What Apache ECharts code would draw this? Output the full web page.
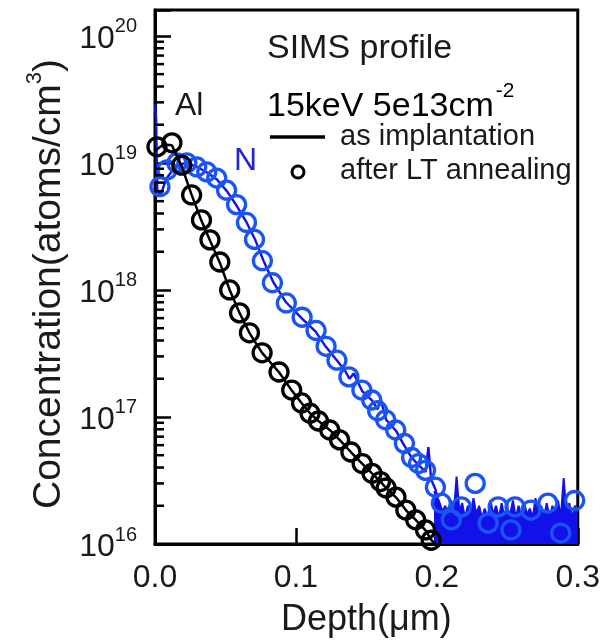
<!DOCTYPE html>
<html>
<head>
<meta charset="utf-8">
<script src="https://cdn.jsdelivr.net/npm/echarts@6/dist/echarts.min.js"></script>
<style>
html,body{margin:0;padding:0;background:#fff;}
#chart{width:603px;height:644px;}
</style>
</head>
<body>
<div id="chart"></div>
<script>
// ---- data (depth in um, concentration in atoms/cm^3) ----
// Al, after LT annealing (black circles)
const alAnnDepth = [0.0014,0.012,0.019,0.026,0.033,0.039,0.046,0.053,0.060,0.067,0.076,0.088,0.097,0.104,0.110,0.116,0.124,0.131,0.139,0.147,0.154,0.160,0.164,0.171,0.178,0.185,0.192,0.196,0.201];
const alAnnConc  = [1.34e19,1.44e19,9.6e18,5.6e18,3.56e18,2.48e18,1.66e18,1.0e18,6.6e17,4.6e17,3.2e17,2.26e17,1.63e17,1.29e17,1.07e17,9.3e16,7.9e16,6.6e16,5.3e16,4.3e16,3.6e16,3.1e16,2.76e16,2.34e16,1.85e16,1.55e16,1.29e16,1.07e16,9.5e15];
// Al, as implantation (black line)
const alImpDepth = [0.000,0.006,0.012,0.019,0.026,0.033,0.039,0.046,0.053,0.060,0.067,0.076,0.088,0.097,0.104,0.110,0.116,0.124,0.131,0.139,0.147,0.154,0.160,0.164,0.171,0.178,0.185,0.192,0.196,0.203];
const alImpConc  = [1.25e19,1.40e19,1.38e19,9.4e18,5.6e18,3.5e18,2.45e18,1.64e18,1.0e18,6.6e17,4.6e17,3.2e17,2.25e17,1.62e17,1.29e17,1.07e17,9.3e16,7.9e16,6.6e16,5.3e16,4.3e16,3.6e16,3.1e16,2.76e16,2.33e16,1.85e16,1.55e16,1.28e16,1.08e16,9.0e15];
// N, after LT annealing (blue circles)
const nAnnDepth = [0.0035,0.0085,0.0155,0.0226,0.0296,0.0367,0.0438,0.0508,0.0579,0.0649,0.0706,0.0762,0.0833,0.0932,0.1044,0.1143,0.1214,0.1291,0.1376,0.1468,0.1538,0.158,0.1637,0.1708,0.177,0.1821,0.187,0.1920,0.1990,0.2032,0.2103,0.2174,0.2272,0.2364,0.2435,0.2526,0.2555,0.2668,0.2788,0.2879,0.2978];
const nAnnConc  = [6.5e18,8.8e18,1.0e19,1.0e19,9.3e18,8.5e18,7.6e18,6.1e18,4.7e18,3.4e18,2.5e18,1.7e18,1.14e18,7.9e17,6.1e17,4.8e17,3.6e17,2.8e17,2.07e17,1.63e17,1.36e17,1.12e17,9.5e16,7.9e16,6.2e16,4.8e16,4.3e16,3.8e16,2.8e16,2.1e16,1.55e16,1.96e16,3.0e16,1.46e16,1.96e16,1.29e16,1.96e16,1.85e16,2.1e16,1.22e16,2.2e16];
// N, as implantation (blue line) down to the detection floor
const nImpDepth = [0.000,0.0008,0.0016,0.004,0.008,0.015,0.022,0.030,0.037,0.044,0.051,0.058,0.065,0.071,0.077,0.084,0.093,0.104,0.114,0.121,0.129,0.135,0.138,0.141,0.147,0.154,0.158,0.160,0.164,0.171,0.176,0.182,0.187,0.192,0.194,0.196,0.199,0.200];
const nImpConc  = [2.9e19,2.2e19,6.0e18,5.6e18,7.5e18,9.5e18,1.0e19,9.3e18,8.4e18,7.4e18,6.0e18,4.6e18,3.4e18,2.5e18,1.7e18,1.15e18,8.0e17,6.0e17,4.7e17,3.6e17,2.8e17,2.3e17,2.0e17,2.2e17,1.6e17,1.35e17,1.15e17,1.4e17,9.5e16,7.8e16,6.2e16,4.8e16,4.2e16,3.7e16,5.8e16,3.2e16,2.7e16,2.4e16];
// N, as implantation: noisy detection floor (dense, appears as a filled band)
const nFloorDepth = [0.198,0.200,0.202,0.204,0.206,0.208,0.210,0.212,0.214,0.216,0.218,0.220,0.222,0.224,0.226,0.228,0.230,0.232,0.234,0.236,0.238,0.240,0.242,0.244,0.246,0.248,0.250,0.252,0.254,0.256,0.258,0.260,0.262,0.264,0.266,0.268,0.270,0.272,0.274,0.276,0.278,0.280,0.282,0.284,0.286,0.288,0.290,0.292,0.294,0.296,0.298,0.300];
const nFloorConc  = [2.6e16,2.4e16,2.1e16,1.8e16,2.0e16,1.6e16,2.2e16,1.7e16,3.4e16,1.8e16,2.1e16,1.6e16,2.0e16,1.7e16,2.3e16,1.7e16,2.0e16,1.6e16,1.9e16,1.6e16,2.2e16,1.7e16,2.0e16,1.6e16,2.1e16,1.6e16,1.9e16,1.7e16,2.2e16,1.6e16,2.0e16,1.6e16,2.1e16,1.7e16,1.9e16,1.6e16,2.3e16,1.7e16,2.0e16,1.6e16,2.1e16,1.6e16,2.0e16,1.7e16,2.2e16,1.6e16,3.3e16,1.7e16,2.1e16,1.6e16,2.0e16,1.8e16];

// ---- axis ticks / labels ----
const xTickLabels = ['0.0','0.1','0.2','0.3'];
const yExponents = [16,17,18,19,20];
const yMinorTicks = [];
for (let e = 16; e < 20; e++) for (let m = 2; m <= 9; m++) yMinorTicks.push(m * Math.pow(10, e));

const FONT = 'Liberation Sans, Arial, sans-serif';
const TXT = '#1a1a1a';
const BLUE_LINE = '#1212e8';
const BLUE_CIRC = '#1a54f4';
const zip = (a, b) => a.map((v, i) => [v, b[i]]);

const chart = echarts.init(document.getElementById('chart'), null, {renderer: 'canvas'});
chart.setOption({
  animation: false,
  backgroundColor: '#fff',
  textStyle: {fontFamily: FONT, color: TXT},
  grid: {left: 155, top: 10, width: 425, height: 534, show: true, borderColor: '#000', borderWidth: 3, backgroundColor: 'transparent'},
  xAxis: {
    type: 'value', min: 0, max: 0.3, interval: 0.1,
    axisLine: {show: true, lineStyle: {color: '#000', width: 3}},
    axisTick: {show: true, inside: true, length: 16, lineStyle: {color: '#000', width: 2.5}},
    splitLine: {show: false},
    axisLabel: {fontSize: 32, color: TXT, margin: 18, fontFamily: FONT,
      formatter: v => xTickLabels[Math.round(v * 10)] || ''},
    name: 'Depth(\u03bcm)', nameLocation: 'middle', nameGap: 58,
    nameTextStyle: {fontSize: 36, color: TXT, fontFamily: FONT}
  },
  yAxis: {
    type: 'log', logBase: 10, min: 1e16, max: 1.6e20,
    axisLine: {show: true, lineStyle: {color: '#000', width: 3}},
    axisTick: {show: true, inside: true, length: 16, lineStyle: {color: '#000', width: 2.5}},
    splitLine: {show: false},
    axisLabel: {
      margin: 18, color: TXT, fontFamily: FONT,
      formatter: v => {
        const e = Math.log10(v);
        const r = Math.round(e);
        if (Math.abs(e - r) > 1e-6 || yExponents.indexOf(r) < 0) return '';
        return '{b|10}{s|' + r + '}';
      },
      rich: {
        b: {fontSize: 32, color: TXT, fontFamily: FONT, verticalAlign: 'bottom'},
        s: {fontSize: 20, color: TXT, fontFamily: FONT, verticalAlign: 'bottom', padding: [0, 0, 18, 0]}
      }
    },
    name: '{a|Concentration(atoms/cm}{s|3}{a|)}', nameLocation: 'middle', nameRotate: 90, nameGap: 84,
    nameTextStyle: {
      padding: [0, 14, 0, 0],
      rich: {
        a: {fontSize: 39, color: TXT, fontFamily: FONT, verticalAlign: 'bottom'},
        s: {fontSize: 22, color: TXT, fontFamily: FONT, verticalAlign: 'bottom', padding: [0, 0, 22, 0]}
      }
    }
  },
  graphic: [
    {type: 'text', x: 267, y: 49, style: {text: 'SIMS profile', fontSize: 34, fontFamily: FONT, fill: TXT, verticalAlign: 'middle'}},
    {type: 'text', x: 267, y: 102, style: {text: '{a|15keV 5e13cm}{s|-2}', verticalAlign: 'middle', rich: {
      a: {fontSize: 34, fontFamily: FONT, color: TXT, verticalAlign: 'bottom'},
      s: {fontSize: 21, fontFamily: FONT, color: TXT, verticalAlign: 'bottom', padding: [0, 0, 22, 2]}
    }}},
    {type: 'line', shape: {x1: 270, y1: 137, x2: 325, y2: 137}, style: {stroke: '#000', lineWidth: 3.5}},
    {type: 'text', x: 340, y: 137, style: {text: 'as implantation', fontSize: 29, fontFamily: FONT, fill: TXT, verticalAlign: 'middle'}},
    {type: 'circle', shape: {cx: 298, cy: 172, r: 6}, style: {fill: 'none', stroke: '#000', lineWidth: 3}},
    {type: 'text', x: 340, y: 171, style: {text: 'after LT annealing', fontSize: 29, fontFamily: FONT, fill: TXT, verticalAlign: 'middle'}},
    {type: 'text', x: 175, y: 106, style: {text: 'Al', fontSize: 32, fontFamily: FONT, fill: TXT, verticalAlign: 'middle'}},
    {type: 'text', x: 234, y: 161, style: {text: 'N', fontSize: 32, fontFamily: FONT, fill: '#2424d6', verticalAlign: 'middle'}}
  ],
  series: [
    {name: 'N as implantation', type: 'line', data: zip(nImpDepth, nImpConc), showSymbol: false, symbol: 'none',
      lineStyle: {color: BLUE_LINE, width: 2.4}, itemStyle: {color: BLUE_LINE}, clip: true, z: 2},
    {name: 'N as implantation floor', type: 'line', data: zip(nFloorDepth, nFloorConc), showSymbol: false, symbol: 'none',
      lineStyle: {color: BLUE_LINE, width: 2}, itemStyle: {color: BLUE_LINE},
      areaStyle: {color: BLUE_LINE, opacity: 1, origin: 'start'}, clip: true, z: 2},
    {name: 'N after LT annealing', type: 'scatter', data: zip(nAnnDepth, nAnnConc), symbol: 'circle', symbolSize: 18,
      itemStyle: {color: 'rgba(0,0,0,0)', borderColor: BLUE_CIRC, borderWidth: 3.3, opacity: 1}, clip: true, z: 3},
    {name: 'as implantation', type: 'line', data: zip(alImpDepth, alImpConc), showSymbol: false, symbol: 'none',
      lineStyle: {color: '#000', width: 2.5}, itemStyle: {color: '#000'}, clip: true, z: 4},
    {name: 'after LT annealing', type: 'scatter', data: zip(alAnnDepth, alAnnConc), symbol: 'circle', symbolSize: 18,
      itemStyle: {color: 'rgba(0,0,0,0)', borderColor: '#000', borderWidth: 3.3, opacity: 1}, clip: true, z: 5},
    {name: 'minor ticks', type: 'custom', silent: true, data: yMinorTicks.map(v => [0, v]), z: 6,
      renderItem: (params, api) => {
        const p = api.coord([0, api.value(1)]);
        return {type: 'line', shape: {x1: p[0], y1: p[1], x2: p[0] + 9, y2: p[1]}, style: {stroke: '#000', lineWidth: 2.5}};
      }}
  ]
});
</script>
</body>
</html>
